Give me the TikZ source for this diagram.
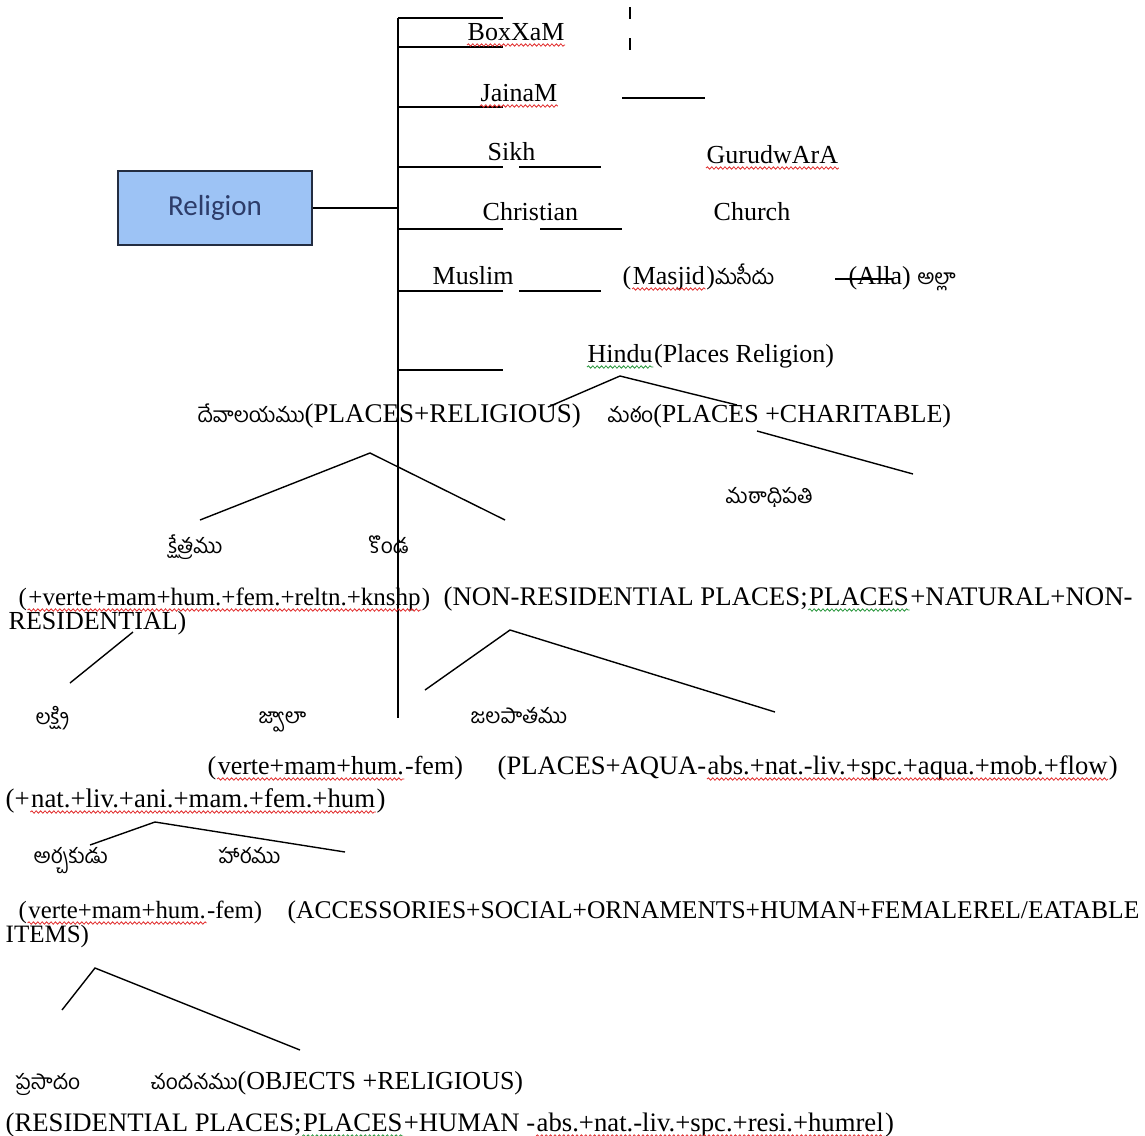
\documentclass[tikz,border=0pt]{standalone}
\usepackage{fontspec}
\setmainfont{Liberation Serif}
\newfontfamily\telugu[Script=Telugu]{Hind Guntur}
\newfontfamily\calibri{Carlito}
\usetikzlibrary{positioning,decorations.pathmorphing}

\definecolor{boxblue}{RGB}{157,195,245}
\definecolor{boxline}{RGB}{35,45,65}
\definecolor{boxtext}{RGB}{45,60,105}
\definecolor{spellred}{RGB}{225,45,45}
\definecolor{spellgreen}{RGB}{40,150,60}

\newcommand\tel[1]{{\telugu\fontsize{10.5}{12}\selectfont #1}}
% wavy underline of the word processor under a named node
\newcommand\squig[2]{\draw[#1] ([yshift=-2.5pt]#2.base west) -- ([yshift=-2.5pt]#2.base east);}

\tikzset{
  lbl/.style={inner sep=0pt, anchor=base west, font=\fontsize{#1}{15}\selectfont},
  lbl/.default=13,
  relbox/.style={draw=boxline, fill=boxblue, thick, minimum width=97pt, minimum height=37pt,
    font=\calibri\fontsize{14.5}{16}\selectfont, text=boxtext},
  redsq/.style={spellred, line width=0.4pt, decorate,
    decoration={snake, amplitude=0.6pt, segment length=2.2pt}},
  greensq/.style={redsq, spellgreen}
}

\begin{document}
\begin{tikzpicture}[x=0.5pt, y=-0.5pt, line width=0.7pt]
    \useasboundingbox (0,0) rectangle (1145,1135);

    % Religion box and trunk
    \coordinate (trunktop) at (398,18);
    \coordinate (trunkbot) at (398,718);
    \node[relbox] (religion) at (215,208) {Religion};
    \draw (trunktop) -- (trunkbot);
    \draw (religion.east) -- (religion.east -| trunktop);

    % Branches off the trunk
    \foreach \y in {18,47,107,167,229,291,370}
        \draw (398,\y) -- (503,\y);

    % Religions and their places
    \node[lbl] (boxxam) at (467,40) {BoxXaM};
    \node[lbl] (jainam) at (480,101) {JainaM};
    \node[lbl] (sikh) at (487,160) {Sikh};
    \node[lbl] (gurudwara) at (706,163) {GurudwArA};
    \node[lbl] (christian) at (482,220) {Christian};
    \node[lbl] (church) at (713,220) {Church};
    \node[lbl] (muslim) at (432,284) {Muslim};
    \node[lbl] (masjidl) at (622,284) {(};
    \node[lbl, base right=0pt of masjidl] (masjid) {Masjid};
    \node[lbl, base right=0pt of masjid] (masjidt) {)\tel{మసీదు}};
    \node[lbl] (alla) at (848,284) {(Alla) \tel{అల్లా}};
    \node[lbl] (hindu) at (587,362) {Hindu};
    \node[lbl, base right=0pt of hindu] (hindut) {(Places Religion)};
    \squig{redsq}{boxxam}
    \squig{redsq}{jainam}
    \squig{redsq}{gurudwara}
    \squig{redsq}{masjid}
    \squig{greensq}{hindu}

    \draw[line width=1.4pt, dash pattern=on 6pt off 9.5pt] (630,7) -- (630,51);
    \draw (622,98) -- (705,98);
    \draw (519,167) -- (601,167);
    \draw (540,229) -- (622,229);
    \draw (519,291) -- (601,291);
    \draw (835,279) -- (893,279);

    % Hindu places
    \node[lbl=13.5] (devalayam) at (197,422) {\tel{దేవాలయము}(PLACES+RELIGIOUS)};
    \node[lbl] (matham) at (607,422) {\tel{మఠం}(PLACES +CHARITABLE)};
    \node[lbl] (mathadhipati) at (725,503) {\tel{మఠాధిపతి}};
    \coordinate (hinduapex) at (620,376);
    \draw (548,407) -- (hinduapex) -- (737,405);
    \draw (757,431) -- (913,474);

    % Kshetram and Konda
    \coordinate (devapex) at (370,453);
    \draw (200,520) -- (devapex) -- (505,520);
    \node[lbl] (kshetram) at (168,553) {\tel{క్షేత్రము}};
    \node[lbl] (konda) at (368,553) {\tel{కొండ}};
    \node[lbl=12.5] (ksfeatl) at (18,605) {(};
    \node[lbl=12.5, base right=0pt of ksfeatl] (ksfeat) {+verte+mam+hum.+fem.+reltn.+knshp};
    \node[lbl=12.5, base right=0pt of ksfeat] (ksfeatr) {)};
    \node[lbl=13.4] (nonres) at (443,605) {(NON-RESIDENTIAL PLACES;};
    \node[lbl=13.4, base right=0pt of nonres] (nonresp) {PLACES};
    \node[lbl=13.4, base right=0pt of nonresp] (nonrest) {+NATURAL+NON-};
    \node[lbl] (nonres2) at (8,629) {RESIDENTIAL)};
    \squig{redsq}{ksfeat}
    \squig{greensq}{nonresp}

    % Lakshmi, Jwala, Jalapatam
    \draw (133,632) -- (70,683);
    \coordinate (nonresapex) at (510,630);
    \draw (425,690) -- (nonresapex) -- (775,712);
    \node[lbl] (lakshmi) at (35,724) {\tel{లక్ష్మి}};
    \node[lbl] (jwala) at (258,723) {\tel{జ్వాలా}};
    \node[lbl] (jalapatam) at (470,723) {\tel{జలపాతము}};
    \node[lbl] (jwfeatl) at (207,774) {(};
    \node[lbl, base right=0pt of jwfeatl] (jwfeat) {verte+mam+hum.};
    \node[lbl, base right=0pt of jwfeat] (jwfeatr) {-fem)};
    \node[lbl=13.3] (jlfeatl) at (497,774) {(PLACES+AQUA-};
    \node[lbl=13.3, base right=0pt of jlfeatl] (jlfeat) {abs.+nat.-liv.+spc.+aqua.+mob.+flow};
    \node[lbl=13.3, base right=0pt of jlfeat] (jlfeatr) {)};
    \node[lbl=13.4] (lkfeatl) at (5,807) {(+};
    \node[lbl=13.4, base right=0pt of lkfeatl] (lkfeat) {nat.+liv.+ani.+mam.+fem.+hum};
    \node[lbl=13.4, base right=0pt of lkfeat] (lkfeatr) {)};
    \squig{redsq}{jwfeat}
    \squig{redsq}{jlfeat}
    \squig{redsq}{lkfeat}

    % Archaka and Haaram
    \coordinate (archapex) at (155,822);
    \draw (90,845) -- (archapex) -- (345,852);
    \node[lbl] (archaka) at (33,863) {\tel{అర్చకుడు}};
    \node[lbl] (haaram) at (218,863) {\tel{హారము}};
    \node[lbl=12.4] (arfeatl) at (18,918) {(};
    \node[lbl=12.4, base right=0pt of arfeatl] (arfeat) {verte+mam+hum.};
    \node[lbl=12.4, base right=0pt of arfeat] (arfeatr) {-fem)};
    \node[lbl=12.75] (hrfeat) at (287,918) {(ACCESSORIES+SOCIAL+ORNAMENTS+HUMAN+FEMALEREL/EATABLE};
    \node[lbl=12.5] (hrfeat2) at (5,942) {ITEMS)};
    \squig{redsq}{arfeat}

    % Prasadam and Chandanam
    \coordinate (prasapex) at (95,968);
    \draw (62,1010) -- (prasapex) -- (300,1050);
    \node[lbl] (prasadam) at (15,1089) {\tel{ప్రసాదం}};
    \node[lbl] (chandanam) at (150,1089) {\tel{చందనము}(OBJECTS +RELIGIOUS)};
    \node[lbl=13.35] (resl) at (5,1131) {(RESIDENTIAL PLACES;};
    \node[lbl=13.35, base right=0pt of resl] (resp) {PLACES};
    \node[lbl=13.35, base right=0pt of resp] (resm) {+HUMAN -};
    \node[lbl=13.35, base right=0pt of resm] (resf) {abs.+nat.-liv.+spc.+resi.+humrel};
    \node[lbl=13.35, base right=0pt of resf] (resr) {)};
    \squig{greensq}{resp}
    \squig{redsq}{resf}
\end{tikzpicture}
\end{document}
